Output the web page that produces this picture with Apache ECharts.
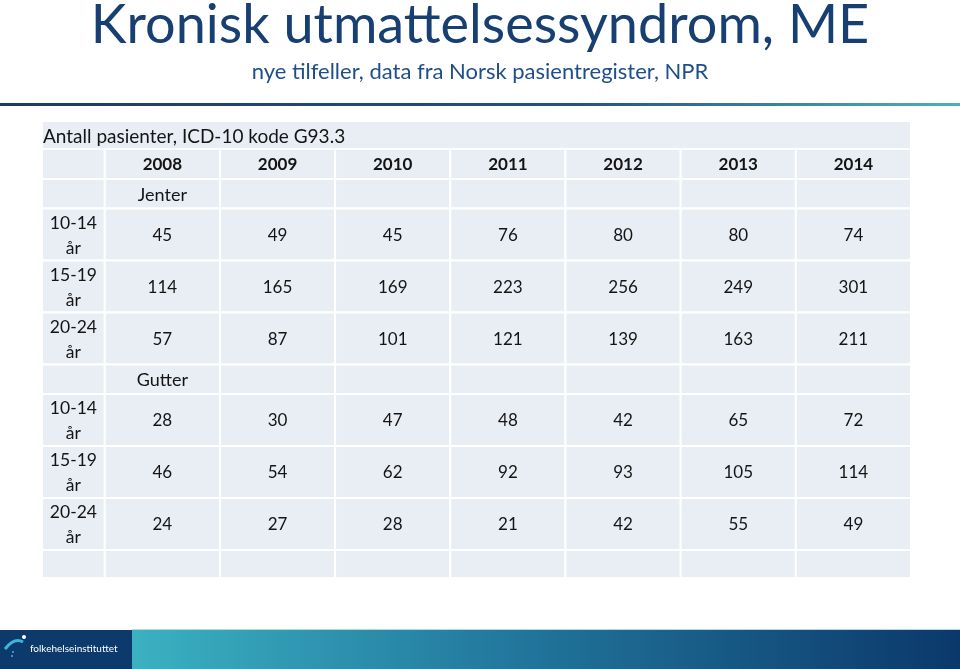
<!DOCTYPE html>
<html><head><meta charset="utf-8">
<script src="https://cdn.jsdelivr.net/npm/echarts@6/dist/echarts.min.js"></script>
<style>html,body{margin:0;padding:0;background:#fff}#c{width:960px;height:669px}</style>
</head><body><div id="c"></div>
<script>
// ---- data ----
const titleText = 'Kronisk utmattelsessyndrom, ME';
const subtitleText = 'nye tilfeller, data fra Norsk pasientregister, NPR';
const tableCaption = 'Antall pasienter, ICD-10 kode G93.3';
const years = ['2008', '2009', '2010', '2011', '2012', '2013', '2014'];
const groups = ['Jenter', 'Gutter'];
const ageGroups = ['10-14\når', '15-19\når', '20-24\når'];
const jenter10_14 = [45, 49, 45, 76, 80, 80, 74];
const jenter15_19 = [114, 165, 169, 223, 256, 249, 301];
const jenter20_24 = [57, 87, 101, 121, 139, 163, 211];
const gutter10_14 = [28, 30, 47, 48, 42, 65, 72];
const gutter15_19 = [46, 54, 62, 92, 93, 105, 114];
const gutter20_24 = [24, 27, 28, 21, 42, 55, 49];
const groupValues = [[jenter10_14, jenter15_19, jenter20_24], [gutter10_14, gutter15_19, gutter20_24]];

// ---- layout (relative units) ----
const FONT = 'Lato';
const rowUnit = { caption: 28, header: 30, group: 29.5, data: 52, empty: 28 };
const labelColUnit = 0.545, yearColUnit = 1;

// build rows
const rows = [{ kind: 'caption' }, { kind: 'header' }];
groups.forEach((g, gi) => {
  rows.push({ kind: 'group', label: g });
  ageGroups.forEach((a, ai) => rows.push({ kind: 'data', label: a, values: groupValues[gi][ai] }));
});
rows.push({ kind: 'empty' });

const colEdges = [0, labelColUnit];
years.forEach(() => colEdges.push(colEdges[colEdges.length - 1] + yearColUnit));
const totalW = colEdges[colEdges.length - 1];
const rowEdges = [0];
rows.forEach(r => rowEdges.push(rowEdges[rowEdges.length - 1] + rowUnit[r.kind]));
const totalH = rowEdges[rowEdges.length - 1];

// cells: [x0, x1, y0, y1]
const cells = [];
const cellMeta = [];
rows.forEach((r, ri) => {
  const y0 = rowEdges[ri], y1 = rowEdges[ri + 1];
  if (r.kind === 'caption') {
    cells.push([0, totalW, y0, y1]);
    cellMeta.push({ text: tableCaption, align: 'left', bold: false, size: 19, dy: 1.5 });
    return;
  }
  for (let c = 0; c < colEdges.length - 1; c++) {
    let text = '';
    let bold = false;
    let size = 17;
    if (r.kind === 'header' && c > 0) { text = years[c - 1]; bold = true; }
    if (r.kind === 'group' && c === 1) { text = r.label; size = 18; }
    if (r.kind === 'data') {
      if (c === 0) { text = r.label; size = 17.5; }
      else text = String(r.values[c - 1]);
    }
    cells.push([colEdges[c], colEdges[c + 1], y0, y1]);
    cellMeta.push({ text, align: 'center', bold, size, dy: 1 });
  }
});

const chart = echarts.init(document.getElementById('c'), null, { renderer: 'canvas' });
const option = {
  animation: false,
  title: [
    { text: titleText, left: 'center', top: -6,
      textStyle: { fontFamily: FONT, fontSize: 54, fontWeight: 'normal', color: '#173F72' } },
    { text: subtitleText, left: 'center', top: 56,
      textStyle: { fontFamily: FONT, fontSize: 22, fontWeight: 'normal', color: '#1F4E8C' } }
  ],
  grid: { left: 42, right: 49, top: 121, bottom: 91, containLabel: false },
  xAxis: { type: 'value', min: 0, max: totalW, show: false },
  yAxis: { type: 'value', min: 0, max: totalH, inverse: true, show: false },
  series: [{
    type: 'custom',
    clip: false,
    data: cells,
    encode: { x: [0, 1], y: [2, 3] },
    renderItem: function (params, api) {
      const p0 = api.coord([api.value(0), api.value(2)]);
      const p1 = api.coord([api.value(1), api.value(3)]);
      const x = Math.min(p0[0], p1[0]), y = Math.min(p0[1], p1[1]);
      const w = Math.abs(p1[0] - p0[0]), h = Math.abs(p1[1] - p0[1]);
      const m = cellMeta[params.dataIndex];
      return {
        type: 'group',
        children: [
          { type: 'rect', shape: { x: x, y: y, width: w, height: h },
            style: { fill: '#E9EDF4', stroke: '#FFFFFF', lineWidth: 2 } },
          { type: 'text',
            style: {
              text: m.text,
              x: m.align === 'left' ? x + 1 : x + w / 2,
              y: y + h / 2 + m.dy,
              align: m.align, verticalAlign: 'middle',
              fontFamily: FONT, fontSize: m.size, lineHeight: 25,
              fontWeight: m.bold ? 'bold' : 'normal',
              fill: '#141414'
            } }
        ]
      };
    }
  }],
  graphic: [
    // divider under the subtitle
    { type: 'rect', left: 0, top: 103, shape: { width: 960, height: 3 },
      style: { fill: new echarts.graphic.LinearGradient(0, 0, 1, 0, [
        { offset: 0, color: '#1D3A66' }, { offset: 0.6, color: '#24527F' }, { offset: 1, color: '#4BAFC2' }]) } },
    // footer band
    { type: 'rect', left: 132, top: 630, shape: { width: 828, height: 39 },
      style: { fill: new echarts.graphic.LinearGradient(0, 0, 1, 0, [
        { offset: 0, color: '#3BB1C1' }, { offset: 0.45, color: '#22789E' }, { offset: 1, color: '#0B386B' }]) } },
    { type: 'rect', left: 132, top: 629, shape: { width: 828, height: 1 }, style: { fill: '#A9DCE4' } },
    { type: 'rect', left: 0, top: 630, shape: { width: 132, height: 39 }, style: { fill: '#0C3A6D' } },
    // logo figure
    { type: 'bezierCurve', shape: { x1: 5, y1: 649, x2: 23, y2: 642, cpx1: 12, cpy1: 640, cpx2: 18, cpy2: 639 },
      style: { stroke: '#3FB4D8', lineWidth: 3, fill: null } },
    { type: 'circle', shape: { cx: 24, cy: 637, r: 2 }, style: { fill: '#FFFFFF' } },
    { type: 'circle', shape: { cx: 13, cy: 652, r: 1 }, style: { fill: '#3FB4D8' } },
    { type: 'circle', shape: { cx: 12, cy: 656, r: 1 }, style: { fill: '#3FB4D8' } },
    { type: 'text', left: 30, top: 644,
      style: { text: 'folkehelseinstituttet', fill: '#FFFFFF', fontFamily: FONT, fontSize: 10 } }
  ]
};
chart.setOption(option);
</script>
</body></html>
